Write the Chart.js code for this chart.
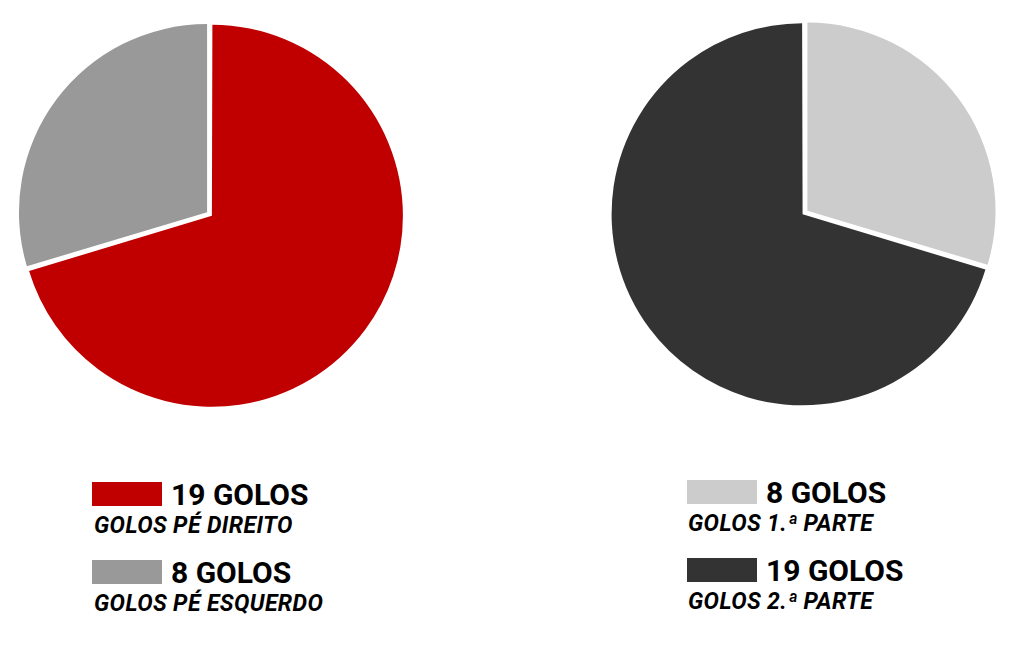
<!DOCTYPE html>
<html>
<head>
<meta charset="utf-8">
<script src="https://cdn.jsdelivr.net/npm/chart.js@4.4.1/dist/chart.umd.min.js"></script>
<style>
  html, body { margin:0; padding:0; background:#fff; width:1024px; height:655px; overflow:hidden; font-family: Roboto, "Noto Sans", sans-serif; }
  .wrap { position:absolute; }
  .sw { position:absolute; }
  .t { position:absolute; font-weight:700; color:#000; line-height:1; white-space:nowrap; }
  .s { position:absolute; font-weight:700; font-style:italic; color:#000; line-height:1; white-space:nowrap; letter-spacing:0.4px; }
</style>
</head>
<body>
<div class="wrap" id="w1" style="left:0;top:0;width:419px;height:428px;"><canvas id="c1"></canvas></div>
<div class="wrap" id="w2" style="left:595px;top:0;width:420px;height:425px;"><canvas id="c2"></canvas></div>
<div id="legend"></div>
<script>
// Chart 1: foot
const footLabels = ['GOLOS PÉ DIREITO', 'GOLOS PÉ ESQUERDO'];
const footValues = [19, 8];
const footColors = ['#c00000', '#999999'];
// Chart 2: half
const halfLabels = ['GOLOS 1.ª PARTE', 'GOLOS 2.ª PARTE'];
const halfValues = [8, 19];
const halfColors = ['#cccccc', '#333333'];
const unit = 'GOLOS';

function makePie(id, labels, values, colors) {
  new Chart(document.getElementById(id), {
    type: 'pie',
    data: { labels: labels, datasets: [{ data: values, backgroundColor: colors, borderWidth: 0, offset: 12, hoverOffset: 0 }] },
    options: {
      responsive: true, maintainAspectRatio: false, animation: false,
      radius: 188,
      layout: { padding: 0 },
      plugins: { legend: { display: false }, tooltip: { enabled: false } }
    }
  });
}
makePie('c1', footLabels, footValues, footColors);
makePie('c2', halfLabels, halfValues, halfColors);

// legend (HTML)
const leg = document.getElementById('legend');
function addItem(x, y, color, value, label, textX, subX) {
  const sw = document.createElement('div');
  sw.className = 'sw';
  sw.style.cssText = `left:${x}px;top:${y}px;width:70px;height:24px;background:${color};`;
  leg.appendChild(sw);
  const t = document.createElement('div');
  t.className = 't';
  t.style.cssText = `left:${textX}px;top:${y - 2}px;font-size:30px;`;
  t.textContent = value + ' ' + unit;
  leg.appendChild(t);
  const s = document.createElement('div');
  s.className = 's';
  s.style.cssText = `left:${subX}px;top:${y + 32}px;font-size:23px;`;
  s.textContent = label;
  leg.appendChild(s);
}
addItem(92, 482, footColors[0], footValues[0], footLabels[0], 171, 94);
addItem(92, 560, footColors[1], footValues[1], footLabels[1], 171, 94);
addItem(687, 480, halfColors[0], halfValues[0], halfLabels[0], 766, 688);
addItem(687, 558, halfColors[1], halfValues[1], halfLabels[1], 766, 688);
</script>
</body>
</html>
